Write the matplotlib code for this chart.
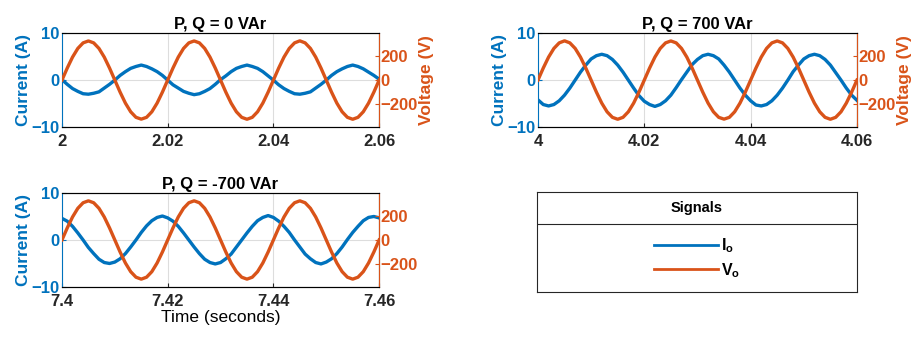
import numpy as np
import matplotlib
matplotlib.use("Agg")
import matplotlib.pyplot as plt

plt.rcParams['font.family'] = ['Liberation Sans', 'DejaVu Sans']
plt.rcParams['mathtext.fontset'] = 'custom'
plt.rcParams['mathtext.rm'] = 'Liberation Sans'
plt.rcParams['mathtext.bf'] = 'Liberation Sans:bold'

BLUE = '#0072BD'
ORANGE = '#D95319'

t_start = [2.0, 4.0, 7.4]
step = 0.001
titles = ['P, Q = 0 VAr', 'P, Q = 700 VAr', 'P, Q = -700 VAr']
xticks = [[2, 2.02, 2.04, 2.06], [4, 4.02, 4.04, 4.06], [7.4, 7.42, 7.44, 7.46]]
xticklabels = [['2', '2.02', '2.04', '2.06'], ['4', '4.02', '4.04', '4.06'],
               ['7.4', '7.42', '7.44', '7.46']]

cur_q0 = [0.1, -0.9, -1.8, -2.4, -2.9, -3.0, -2.8, -2.5, -1.7, -0.9,
          0.0, 1.0, 1.8, 2.5, 2.9, 3.2, 2.9, 2.4, 1.8, 1.0,
          0.0, -1.0, -1.7, -2.4, -2.8, -3.1, -2.9, -2.4, -1.8, -0.9,
          0.1, 0.9, 1.8, 2.5, 2.9, 3.2, 2.9, 2.5, 1.8, 0.9,
          0.0, -1.0, -1.8, -2.4, -2.9, -3.0, -2.8, -2.5, -1.7, -0.9,
          0.0, 1.0, 1.8, 2.4, 2.9, 3.2, 2.9, 2.4, 1.7, 1.0, 0.2]
cur_q700 = [-4.2, -5.2, -5.5, -5.2, -4.4, -3.2, -1.7, 0.0, 1.7, 3.2,
            4.5, 5.2, 5.5, 5.2, 4.4, 3.2, 1.7, 0.0, -1.7, -3.3,
            -4.5, -5.2, -5.6, -5.2, -4.4, -3.2, -1.6, 0.1, 1.7, 3.3,
            4.4, 5.2, 5.5, 5.2, 4.5, 3.2, 1.7, 0.0, -1.7, -3.2,
            -4.4, -5.3, -5.5, -5.2, -4.4, -3.2, -1.7, 0.0, 1.8, 3.2,
            4.5, 5.2, 5.5, 5.2, 4.4, 3.2, 1.6, 0.0, -1.7, -3.2, -4.3]
cur_qm700 = [4.6, 4.0, 2.9, 1.5, 0.0, -1.6, -2.9, -4.1, -4.8, -5.0,
             -4.7, -4.0, -2.9, -1.5, 0.0, 1.6, 3.0, 4.1, 4.8, 5.1,
             4.7, 4.0, 2.9, 1.5, 0.0, -1.5, -2.9, -4.1, -4.8, -5.1,
             -4.8, -4.0, -3.0, -1.5, 0.0, 1.5, 2.9, 4.1, 4.8, 5.2,
             4.8, 4.0, 2.9, 1.6, 0.0, -1.5, -3.0, -4.0, -4.8, -5.1,
             -4.7, -4.0, -2.9, -1.5, 0.1, 1.6, 2.9, 4.1, 4.8, 5.0, 4.7]
volt_q0 = [0, 100, 191, 263, 309, 325, 309, 263, 191, 100,
           0, -100, -191, -263, -309, -324, -309, -263, -191, -100,
           0, 100, 191, 263, 309, 325, 309, 263, 191, 100,
           0, -100, -191, -263, -309, -325, -309, -263, -191, -100,
           0, 100, 191, 263, 309, 326, 309, 263, 191, 100,
           0, -100, -191, -263, -309, -325, -309, -263, -191, -100, 0]
volt_q700 = [0, 100, 191, 263, 309, 326, 309, 263, 191, 100,
             0, -100, -191, -263, -309, -325, -309, -263, -191, -100,
             0, 100, 191, 263, 309, 325, 309, 263, 191, 100,
             0, -100, -191, -263, -309, -324, -309, -263, -191, -100,
             0, 100, 191, 263, 309, 325, 309, 263, 191, 100,
             0, -100, -191, -263, -309, -325, -309, -263, -191, -100, 0]
volt_qm700 = [0, 100, 191, 263, 309, 325, 309, 263, 191, 100,
              0, -100, -191, -263, -309, -325, -309, -263, -191, -100,
              0, 100, 191, 263, 309, 325, 309, 263, 191, 100,
              0, -100, -191, -263, -309, -325, -309, -263, -191, -100,
              0, 100, 191, 263, 309, 325, 309, 263, 191, 100,
              0, -100, -191, -263, -309, -325, -309, -263, -191, -100, 0]

currents = [cur_q0, cur_q700, cur_qm700]
voltages = [volt_q0, volt_q700, volt_qm700]

fig = plt.figure(figsize=(9.18, 3.38), dpi=100)
positions = [[0.0675, 0.624, 0.3455, 0.278],
             [0.586, 0.624, 0.3475, 0.278],
             [0.0675, 0.151, 0.3455, 0.278]]

handles = None
for i in range(3):
    ax = fig.add_axes(positions[i])
    t = t_start[i] + step * np.arange(len(currents[i]))
    li, = ax.plot(t, currents[i], color=BLUE, lw=2.4)
    ax.set_xlim(xticks[i][0], xticks[i][-1])
    ax.set_ylim(-10, 10)
    ax.set_yticks([-10, 0, 10])
    ax.set_xticks(xticks[i])
    ax.set_xticklabels(xticklabels[i])
    ax.grid(True, color='#dddddd', lw=0.8)
    ax.tick_params(direction='in', length=3, labelsize=12)
    ax.tick_params(axis='y', colors=BLUE, pad=2)
    ax.tick_params(axis='x', colors='#262626', pad=5)
    for lab in ax.get_xticklabels() + ax.get_yticklabels():
        lab.set_fontweight('bold')
    ax.spines['left'].set_color(BLUE)
    ax.spines['top'].set_color('#262626')
    ax.spines['bottom'].set_color('#262626')
    ax.set_ylabel('Current (A)', color=BLUE, fontsize=12.5, fontweight='bold', labelpad=0)
    ax.set_title(titles[i], fontsize=12, fontweight='bold', pad=3)

    ax2 = ax.twinx()
    lv, = ax2.plot(t, voltages[i], color=ORANGE, lw=2.4)
    ax2.set_ylim(-390, 390)
    ax2.set_yticks([-200, 0, 200])
    ax2.tick_params(direction='in', length=3, labelsize=12, pad=1, colors=ORANGE)
    for lab in ax2.get_yticklabels():
        lab.set_fontweight('bold')
    ax2.spines['right'].set_color(ORANGE)
    ax2.spines['left'].set_visible(False)
    if i < 2:
        ax2.set_ylabel('Voltage (V)', color=ORANGE, fontsize=12.5, fontweight='bold', labelpad=1)
    if i == 2:
        ax.set_xlabel('Time (seconds)', fontsize=12.5, labelpad=1)
    handles = [li, lv]

# legend box
lg = fig.add_axes([0.585, 0.136, 0.3486, 0.296])
lg.set_xticks([])
lg.set_yticks([])
for s in lg.spines.values():
    s.set_color('#262626')
    s.set_linewidth(0.8)
lg.axhline(0.68, color='#262626', lw=0.8)
lg.text(0.5, 0.84, 'Signals', ha='center', va='center', fontsize=10.5, fontweight='bold',
        transform=lg.transAxes)
leg = lg.legend(handles, [r'$\mathbf{I_o}$', r'$\mathbf{V_o}$'], loc='center',
                bbox_to_anchor=(0.5, 0.34), frameon=False, fontsize=11.5,
                handlelength=4.0, handletextpad=0.15, labelspacing=0.35)
for h in leg.get_lines():
    h.set_linewidth(2.0)

fig.savefig('out.png', dpi=100)
